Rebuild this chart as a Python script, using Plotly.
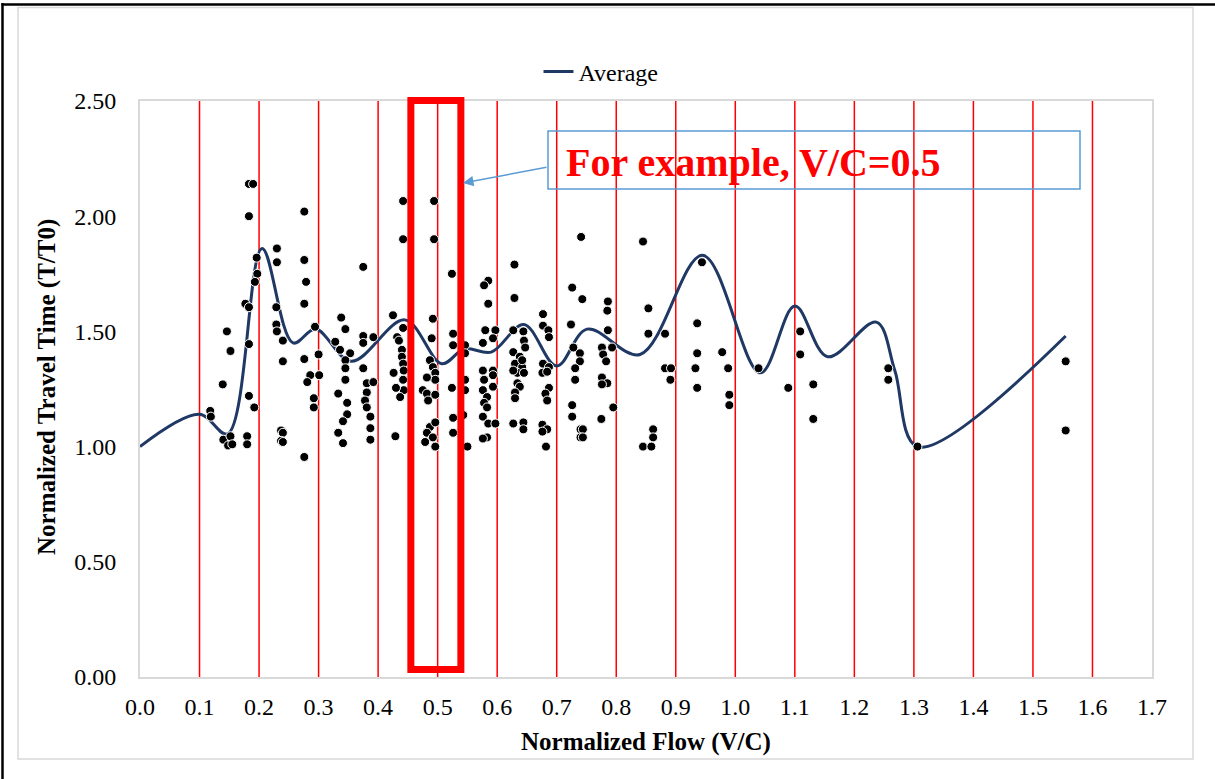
import plotly.graph_objects as go

FONT = "Liberation Serif, Times New Roman, serif"

# ---- observed normalized travel time (T/T0) by normalized flow (V/C) band ----
# V/C 0.1 - 0.3
band1_vc = [0.118, 0.119, 0.139, 0.146, 0.152, 0.140, 0.152, 0.148, 0.155, 0.177,
            0.183, 0.183, 0.183, 0.192, 0.180, 0.180, 0.183, 0.190, 0.183, 0.196,
            0.197, 0.193, 0.230, 0.230, 0.229, 0.229, 0.230, 0.240, 0.240, 0.237,
            0.240, 0.237, 0.240, 0.276, 0.276, 0.279, 0.276, 0.294, 0.276, 0.300,
            0.286, 0.281, 0.301, 0.292, 0.292, 0.276]
band1_tt = [1.155, 1.13, 1.27, 1.50, 1.415, 1.03, 1.045, 1.005, 1.01, 1.62,
            1.605, 1.445, 1.22, 1.17, 1.045, 1.01, 2.14, 2.14, 2.00, 1.82,
            1.75, 1.715, 1.86, 1.80, 1.605, 1.53, 1.50, 1.46, 1.37, 1.07,
            1.06, 1.025, 1.02, 2.02, 1.81, 1.715, 1.62, 1.52, 1.38, 1.40,
            1.31, 1.28, 1.31, 1.21, 1.17, 0.955]

# V/C 0.3 - 0.4
band2_vc = [0.338, 0.345, 0.328, 0.336, 0.353, 0.345, 0.345, 0.345, 0.333, 0.348,
            0.348, 0.341, 0.333, 0.341, 0.375, 0.375, 0.375, 0.392, 0.375, 0.381,
            0.392, 0.381, 0.378, 0.381, 0.387, 0.387, 0.387]
band2_tt = [1.56, 1.51, 1.455, 1.42, 1.405, 1.375, 1.34, 1.29, 1.23, 1.19,
            1.14, 1.11, 1.06, 1.015, 1.78, 1.48, 1.45, 1.475, 1.34, 1.275,
            1.28, 1.235, 1.20, 1.17, 1.13, 1.08, 1.03]

# V/C 0.4 - 0.5
band3_vc = [0.442, 0.442, 0.425, 0.432, 0.435, 0.442, 0.440, 0.440, 0.442, 0.443,
            0.426, 0.442, 0.443, 0.430, 0.437, 0.429,
            0.494, 0.494, 0.492, 0.490, 0.487, 0.492, 0.496, 0.496, 0.482, 0.475,
            0.482, 0.496, 0.484, 0.487, 0.496, 0.482, 0.492, 0.496, 0.479]
band3_tt = [2.066, 1.90, 1.57, 1.475, 1.46, 1.515, 1.42, 1.39, 1.36, 1.33,
            1.32, 1.29, 1.245, 1.255, 1.215, 1.045,
            2.066, 1.90, 1.555, 1.47, 1.375, 1.345, 1.32, 1.29, 1.30, 1.245,
            1.23, 1.225, 1.20, 1.085, 1.105, 1.06, 1.04, 1.00, 1.02]

# V/C 0.5 - 0.6
band4_vc = [0.524, 0.526, 0.526, 0.546, 0.546, 0.524, 0.546, 0.546, 0.526, 0.543,
            0.526, 0.550,
            0.585, 0.578, 0.585, 0.580, 0.597, 0.593, 0.576, 0.576, 0.593, 0.593,
            0.578, 0.576, 0.583, 0.578, 0.583, 0.576, 0.585, 0.593, 0.597, 0.583,
            0.576]
band4_tt = [1.75, 1.49, 1.44, 1.44, 1.405, 1.255, 1.29, 1.245, 1.125, 1.137,
            1.06, 1.00,
            1.72, 1.70, 1.62, 1.505, 1.505, 1.47, 1.45, 1.33, 1.33, 1.31,
            1.29, 1.245, 1.215, 1.19, 1.17, 1.13, 1.10, 1.26, 1.10, 1.04,
            1.035]

# V/C 0.6 - 0.7
band5_vc = [0.629, 0.629, 0.627, 0.644, 0.645, 0.647, 0.627, 0.638, 0.630, 0.642,
            0.634, 0.645, 0.642, 0.627, 0.634, 0.638, 0.630, 0.630, 0.627, 0.644,
            0.644,
            0.677, 0.677, 0.686, 0.687, 0.677, 0.687, 0.676, 0.684, 0.687, 0.681,
            0.684, 0.676, 0.684, 0.676, 0.682]
band5_tt = [1.79, 1.645, 1.505, 1.50, 1.46, 1.43, 1.41, 1.39, 1.36, 1.345,
            1.32, 1.32, 1.375, 1.33, 1.275, 1.26, 1.235, 1.21, 1.10, 1.105,
            1.075,
            1.575, 1.525, 1.505, 1.475, 1.36, 1.345, 1.32, 1.325, 1.255, 1.23,
            1.20, 1.095, 1.075, 1.065, 1.00]

# V/C 0.7 - 0.9
band6_vc = [0.741, 0.726, 0.743, 0.724, 0.728, 0.739, 0.739, 0.731, 0.731, 0.726,
            0.726, 0.740, 0.744, 0.740, 0.744,
            0.786, 0.785, 0.786, 0.776, 0.778, 0.783, 0.793, 0.776, 0.785, 0.776,
            0.795, 0.775,
            0.845, 0.854, 0.854, 0.882, 0.882, 0.892, 0.891, 0.862, 0.862, 0.845,
            0.859]
band6_tt = [1.91, 1.69, 1.64, 1.53, 1.43, 1.405, 1.37, 1.34, 1.29, 1.18,
            1.13, 1.075, 1.075, 1.04, 1.04,
            1.63, 1.59, 1.505, 1.43, 1.40, 1.37, 1.43, 1.30, 1.275, 1.27,
            1.17, 1.12,
            1.89, 1.60, 1.49, 1.49, 1.34, 1.34, 1.29, 1.075, 1.04, 1.00,
            1.00]

# V/C above 0.9
band7_vc = [0.944, 0.936, 0.936, 0.933, 0.936, 0.978, 0.988, 0.990, 0.990, 1.039,
            1.089, 1.109, 1.109, 1.131, 1.131, 1.257, 1.257, 1.306, 1.555, 1.555]
band7_tt = [1.80, 1.535, 1.405, 1.34, 1.255, 1.41, 1.34, 1.225, 1.18, 1.34,
            1.255, 1.50, 1.40, 1.27, 1.12, 1.34, 1.29, 1.00, 1.37, 1.07]

# ---- average curve ----
avg_vc = [0.0, 0.1, 0.147, 0.205, 0.257, 0.295, 0.355, 0.445, 0.507, 0.545,
          0.59, 0.645, 0.70, 0.751, 0.84, 0.945, 1.042, 1.10, 1.155, 1.237,
          1.268, 1.306, 1.555]
avg_tt = [1.00, 1.14, 1.055, 1.86, 1.45, 1.51, 1.37, 1.55, 1.36, 1.425,
          1.41, 1.53, 1.35, 1.51, 1.40, 1.83, 1.32, 1.61, 1.39, 1.54,
          1.33, 1.00, 1.48]

# red vertical guides and highlighted band
guide_vc = [0.1, 0.2, 0.3, 0.4, 0.5, 0.6, 0.7, 0.8, 0.9, 1.0,
            1.1, 1.2, 1.3, 1.4, 1.5, 1.6]
highlight_band = [0.455, 0.539]

x_range = [0.0, 1.7]
y_range = [0.0, 2.5]

obs_vc = band1_vc + band2_vc + band3_vc + band4_vc + band5_vc + band6_vc + band7_vc
obs_tt = band1_tt + band2_tt + band3_tt + band4_tt + band5_tt + band6_tt + band7_tt

# ---- page geometry (plot area in pixels) ----
W, H = 1215, 779
PL, PR, PT, PB = 140, 1152, 101, 677


def px_x(px):
    return (px - PL) / (PR - PL)


def px_y(py):
    return (PB - py) / (PB - PT)


def data_x(v):
    return (v - x_range[0]) / (x_range[1] - x_range[0])


fig = go.Figure()

fig.add_trace(go.Scatter(
    x=avg_vc, y=avg_tt, mode="lines", name="Average",
    line=dict(color="#1F3864", width=3, shape="spline", smoothing=1.0),
))
fig.add_trace(go.Scatter(
    x=obs_vc, y=obs_tt, mode="markers", name="Observed", showlegend=False,
    marker=dict(color="black", size=9, line=dict(color="white", width=1)),
))

shapes = []
for v in guide_vc:
    shapes.append(dict(type="line", xref="x", yref="y", x0=v, x1=v,
                       y0=y_range[0], y1=y_range[1], layer="below",
                       line=dict(color="#FF0000", width=1.5)))

# highlighted V/C band
shapes.append(dict(type="rect", xref="paper", yref="paper",
                   x0=data_x(highlight_band[0]), x1=data_x(highlight_band[1]),
                   y0=px_y(669.5), y1=px_y(100.5),
                   line=dict(color="#FF0000", width=7)))

# callout box
shapes.append(dict(type="rect", xref="paper", yref="paper",
                   x0=px_x(548), x1=px_x(1080), y0=px_y(189), y1=px_y(131),
                   line=dict(color="#5B9BD5", width=1.5)))

# chart frame and page edges
shapes.append(dict(type="rect", xref="paper", yref="paper",
                   x0=px_x(18), x1=px_x(1193), y0=px_y(759), y1=px_y(7.5),
                   line=dict(color="#D9D9D9", width=1.5)))
shapes.append(dict(type="line", xref="paper", yref="paper",
                   x0=px_x(2.5), x1=px_x(2.5), y0=px_y(H), y1=px_y(3),
                   line=dict(color="black", width=2.5)))
shapes.append(dict(type="line", xref="paper", yref="paper",
                   x0=px_x(1.5), x1=px_x(W), y0=px_y(4.5), y1=px_y(4.5),
                   line=dict(color="black", width=2.5)))

annotations = [
    dict(text="For example, V/C=0.5", xref="paper", yref="paper",
         x=px_x(564), y=px_y(162), xanchor="left", yanchor="middle",
         showarrow=False,
         font=dict(family=FONT, size=40, color="#FF0000", weight="bold")),
    dict(text="", xref="paper", yref="paper", x=px_x(463), y=px_y(183),
         ax=85, ay=-16, showarrow=True, arrowhead=2, arrowsize=1.4,
         arrowwidth=1.5, arrowcolor="#5B9BD5"),
    dict(text="Normalized Flow (V/C)", xref="paper", yref="paper",
         x=0.5, y=px_y(742), xanchor="center", yanchor="middle",
         showarrow=False,
         font=dict(family=FONT, size=25, color="black", weight="bold")),
    dict(text="Normalized Travel Time (T/T0)", xref="paper", yref="paper",
         x=px_x(47), y=px_y(387), xanchor="center", yanchor="middle",
         textangle=-90, showarrow=False,
         font=dict(family=FONT, size=25, color="black", weight="bold")),
]

fig.update_layout(
    width=W, height=H,
    margin=dict(l=PL, r=W - PR, t=PT, b=H - PB),
    paper_bgcolor="white", plot_bgcolor="white",
    font=dict(family=FONT, size=24, color="black"),
    showlegend=True,
    legend=dict(orientation="h", x=px_x(601), y=px_y(72),
                xanchor="center", yanchor="middle",
                font=dict(family=FONT, size=24, color="black"),
                bgcolor="rgba(0,0,0,0)"),
    xaxis=dict(range=x_range, tickmode="linear", tick0=0, dtick=0.1,
               tickformat=".1f", showgrid=False, zeroline=False,
               showline=True, linecolor="#D9D9D9", linewidth=2, mirror=True,
               ticks="outside", ticklen=7, tickcolor="rgba(0,0,0,0)",
               tickfont=dict(family=FONT, size=24, color="black")),
    yaxis=dict(range=y_range, tickmode="linear", tick0=0, dtick=0.5,
               tickformat=".2f", showgrid=False, zeroline=False,
               showline=True, linecolor="#D9D9D9", linewidth=2, mirror=True,
               ticks="outside", ticklen=17, tickcolor="rgba(0,0,0,0)",
               tickfont=dict(family=FONT, size=24, color="black")),
    shapes=shapes,
    annotations=annotations,
)

fig.write_html("out.html")
